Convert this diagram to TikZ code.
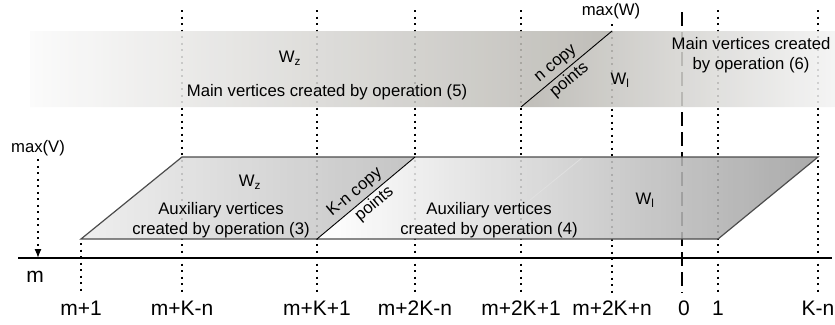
\documentclass[tikz,border=0pt]{standalone}
\usepackage{fontspec}
\setmainfont{Liberation Sans}
\usetikzlibrary{arrows.meta}
\definecolor{bandlight}{RGB}{250,250,250}
\definecolor{banddark}{RGB}{182,180,174}
\definecolor{auxlight}{RGB}{236,236,236}
\definecolor{auxdark}{RGB}{188,188,188}
\definecolor{auxend}{RGB}{158,158,158}
\newcommand\bandfont{\fontsize{16.7}{20}\selectfont}
\newcommand\axisfont{\fontsize{21}{24}\selectfont}

\begin{document}
\begin{tikzpicture}[x=1pt,y=-1pt,
	guide/.style={dash pattern=on 2pt off 4.5pt,line width=1.3pt},
	zeroguide/.style={dash pattern=on 14pt off 6pt,line width=1.6pt},
	lbl/.style={font=\axisfont,anchor=base},
	txt/.style={font=\bandfont,align=center},
	band/.style={opacity=.87}]
	\useasboundingbox (0,0) rectangle (835,324);
	% dotted guides with their labels
	\foreach \x/\y/\n/\t in {81/243/a/m+1,182/10/b/m+K-n,317/10/c/m+K+1,415/10/d/m+2K-n,
		521/10/e/m+2K+1,612/24/f/m+2K+n,718/10/g/1,818/10/h/K-n}{
		\coordinate (\n top) at (\x,\y);
		\coordinate (\n bot) at (\x,293);
		\node[lbl] (\n) at (\x,315) {\t};
		\draw[guide] (\n top) -- (\n bot);
	}
	\coordinate (ztop) at (682,12);
	\coordinate (zbot) at (682,293);
	\node[lbl] (zero) at (684,315) {0};
	\draw[zeroguide] (ztop) -- (zbot);

	% axis
	\coordinate (axl) at (18,258);
	\coordinate (axr) at (832,258);
	\draw[line width=1.4pt] (axl) -- (axr);
	\node[font=\axisfont] (m) at (35,277) {m};
	\node[font=\bandfont] (maxv) at (38,148) {max(V)};
	\coordinate (vend) at (38,258);
	\draw[guide,-{Latex[length=9pt,width=7pt]}] (maxv) -- (vend);
	\node[font=\bandfont] (maxw) at (611,11) {max(W)};

	% main vertices
	\shade[band,left color=bandlight,right color=banddark] (30,31) -- (612,31) -- (521,107) -- (30,107) -- cycle;
	\shade[band,left color=banddark,right color=bandlight!97!black] (612,31) -- (835,31) -- (835,107) -- (521,107) -- cycle;
	\draw[line width=.9pt] (521,107) -- node[txt,sloped,above,pos=.46] (ncopy) {n copy}
		node[txt,sloped,below,pos=.46,inner sep=2pt] (npts) {points} (612,31);

	% auxiliary vertices
	\shade[band,left color=auxlight,right color=auxdark] (81,239) -- (182,157) -- (415,157) -- (317,239) -- cycle;
	\shade[band,left color=white,right color=auxend] (317,239) -- (415,157) -- (818,157) -- (718,239) -- cycle;
	\draw[black!12,line width=.8pt] (482,239) -- (583,157);
	\draw[black!70,line width=1.2pt] (81,239) -- (182,157) -- (818,157) -- (718,239) -- cycle;
	\draw[line width=.9pt] (317,239) -- node[txt,sloped,above,pos=.46] (kcopy) {K-n copy}
		node[txt,sloped,below,pos=.52,inner sep=2pt] (kpts) {points} (415,157);

	\node[txt] (wzt) at (290,58) {W\textsubscript{z}};
	\node[txt] (op5) at (327,92) {Main vertices created by operation (5)};
	\node[txt] (wlt) at (620,80) {W\textsubscript{l}};
	\node[txt] (op6) at (751,55) {Main vertices created\\by operation (6)};
	\node[txt] (wzb) at (250,182) {W\textsubscript{z}};
	\node[txt] (op3) at (221,220) {Auxiliary vertices\\created by operation (3)};
	\node[txt] (op4) at (489,220) {Auxiliary vertices\\created by operation (4)};
	\node[txt] (wlb) at (645,200) {W\textsubscript{l}};
\end{tikzpicture}
\end{document}
